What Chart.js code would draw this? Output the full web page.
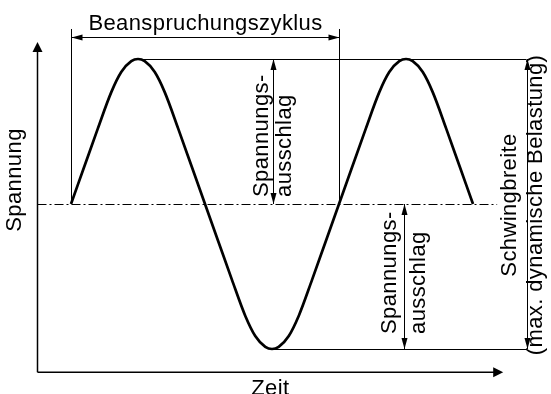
<!DOCTYPE html>
<html lang="de">
<head>
  <meta charset="UTF-8" />
  <title>Beanspruchungszyklus</title>
  <script src="https://cdn.jsdelivr.net/npm/chart.js"></script>
  <style>
    body { margin: 0; background: #fff; }
    #wrap { width: 551px; height: 394px; }
  </style>
</head>
<body>
  <div id="wrap"><canvas id="zyklusChart" width="551" height="394"></canvas></div>

  <script>
    // Zeit in Viertelperioden, Spannung bezogen auf den Ausschlag
    const zeitWerte = [0, 0.2, 0.4, 0.6, 0.75, 0.9, 1.0, 1.1, 1.25, 1.4, 1.6, 1.8,
      2.0, 2.2, 2.4, 2.6, 2.75, 2.9, 3.0, 3.1, 3.25, 3.4, 3.6, 3.8,
      4.0, 4.2, 4.4, 4.6, 4.75, 4.9, 5.0, 5.1, 5.25, 5.4, 5.6, 5.8, 6.0];
    const spannungWerte = [0, 0.26, 0.52, 0.77, 0.91, 0.985, 1.0, 0.985, 0.91, 0.77, 0.52, 0.26,
      0, -0.26, -0.52, -0.77, -0.91, -0.985, -1.0, -0.985, -0.91, -0.77, -0.52, -0.26,
      0, 0.26, 0.52, 0.77, 0.91, 0.985, 1.0, 0.985, 0.91, 0.77, 0.52, 0.26, 0];

    // Kennwerte
    const mittelSpannung = 0;
    const oberSpannung = 1;
    const unterSpannung = -1;
    const zyklusStart = 0;
    const zyklusEnde = 4;
    const ersterGipfel = 1;
    const tal = 3;

    // Texte
    const titelZyklus = 'Beanspruchungszyklus';
    const achseY = 'Spannung';
    const achseX = 'Zeit';
    const ausschlagText = ['Spannungs-', 'ausschlag'];
    const breiteText = ['Schwingbreite', '(max. dynamische Belastung)'];

    const FONT = '22px "Liberation Sans", Arial, sans-serif';

    function line(ctx, x1, y1, x2, y2, w, dash) {
      ctx.save();
      ctx.lineWidth = w;
      ctx.setLineDash(dash || []);
      ctx.beginPath();
      ctx.moveTo(x1, y1);
      ctx.lineTo(x2, y2);
      ctx.stroke();
      ctx.restore();
    }

    // Pfeilspitze mit Spitze bei (x, y), Richtung (dx, dy)
    function head(ctx, x, y, dx, dy, len, half) {
      const nx = -dy, ny = dx;
      ctx.beginPath();
      ctx.moveTo(x, y);
      ctx.lineTo(x - dx * len + nx * half, y - dy * len + ny * half);
      ctx.lineTo(x - dx * len - nx * half, y - dy * len - ny * half);
      ctx.closePath();
      ctx.fill();
    }

    function vText(ctx, lines, x, offsets, y, align) {
      ctx.save();
      ctx.translate(x, y);
      ctx.rotate(-Math.PI / 2);
      ctx.textAlign = align;
      ctx.textBaseline = 'alphabetic';
      lines.forEach((t, i) => ctx.fillText(t, 0, offsets[i]));
      ctx.restore();
    }

    const beschriftung = {
      id: 'beschriftung',
      afterDatasetsDraw(chart) {
        const ctx = chart.ctx;
        const px = v => chart.scales.x.getPixelForValue(v);
        const py = v => chart.scales.y.getPixelForValue(v);
        const snap = v => Math.round(v) + 0.5;

        ctx.save();
        ctx.strokeStyle = '#000';
        ctx.fillStyle = '#000';
        ctx.font = FONT;
        try { ctx.letterSpacing = '0.4px'; } catch (e) {}

        // Achsen
        const ax0 = px(-0.5), ay0 = py(-1.16);
        line(ctx, ax0, ay0, ax0, py(1.117) + 8, 1.5);
        head(ctx, ax0, py(1.117), 0, -1, 10, 5);
        line(ctx, ax0, ay0, px(6.45) - 8, ay0, 1.5);
        head(ctx, px(6.45), ay0, 1, 0, 10, 5);

        // Mittellinie strichpunktiert
        line(ctx, ax0, snap(py(mittelSpannung)), px(6.36), snap(py(mittelSpannung)), 1, [9, 3, 2, 3]);

        // Ober- und Unterspannung
        const rechts = px(6.8);
        line(ctx, px(ersterGipfel), snap(py(oberSpannung)), rechts, snap(py(oberSpannung)), 1);
        line(ctx, px(tal), snap(py(unterSpannung)), rechts, snap(py(unterSpannung)), 1);

        // Zyklus
        const z1 = snap(px(zyklusStart)), z2 = snap(px(zyklusEnde));
        line(ctx, z1, py(1.207), z1, py(mittelSpannung), 1);
        line(ctx, z2, py(1.207), z2, py(mittelSpannung), 1);
        const zy = snap(py(1.152));
        line(ctx, z1, zy, z2, zy, 1);
        head(ctx, z1, zy, -1, 0, 11, 3);
        head(ctx, z2, zy, 1, 0, 11, 3);
        ctx.textAlign = 'center';
        ctx.textBaseline = 'alphabetic';
        ctx.fillText(titelZyklus, (z1 + z2) / 2, zy - 8);

        // Spannungsausschlag oben
        const a1 = snap(px(3.02));
        line(ctx, a1, py(oberSpannung), a1, py(mittelSpannung), 1);
        head(ctx, a1, py(oberSpannung), 0, -1, 11, 3);
        head(ctx, a1, py(mittelSpannung), 0, 1, 11, 3);
        vText(ctx, ausschlagText, a1, [-5.5, 17.5], py(mittelSpannung) - 7, 'left');

        // Spannungsausschlag unten
        const a2 = snap(px(4.97));
        line(ctx, a2, py(mittelSpannung), a2, py(unterSpannung), 1);
        head(ctx, a2, py(mittelSpannung), 0, -1, 11, 3);
        head(ctx, a2, py(unterSpannung), 0, 1, 11, 3);
        vText(ctx, ausschlagText, a2, [-8.5, 20], py(unterSpannung) - 15, 'left');

        // Schwingbreite
        const a3 = snap(rechts);
        line(ctx, a3, py(oberSpannung), a3, py(unterSpannung), 1);
        head(ctx, a3, py(oberSpannung), 0, -1, 11, 3);
        head(ctx, a3, py(unterSpannung), 0, 1, 11, 3);
        vText(ctx, breiteText, a3, [-11.5, 14.5], (py(oberSpannung) + py(unterSpannung)) / 2 + 1, 'center');

        // Achsentitel
        vText(ctx, [achseY], 21, [0], 180, 'center');
        ctx.textAlign = 'center';
        ctx.fillText(achseX, (ax0 + px(6.45)) / 2, 395);

        ctx.restore();
      }
    };

    new Chart(document.getElementById('zyklusChart'), {
      type: 'line',
      data: {
        datasets: [{
          data: zeitWerte.map((t, i) => ({ x: t, y: spannungWerte[i] })),
          borderColor: '#000',
          borderWidth: 2.7,
          pointRadius: 0,
          cubicInterpolationMode: 'monotone',
          fill: false,
          clip: false
        }]
      },
      options: {
        responsive: false,
        animation: false,
        layout: { padding: 0 },
        plugins: { legend: { display: false }, tooltip: { enabled: false } },
        scales: {
          x: { type: 'linear', display: false, min: -1.0597, max: 7.164 },
          y: { display: false, min: -1.3103, max: 1.4069 }
        }
      },
      plugins: [beschriftung]
    });
  </script>
</body>
</html>
